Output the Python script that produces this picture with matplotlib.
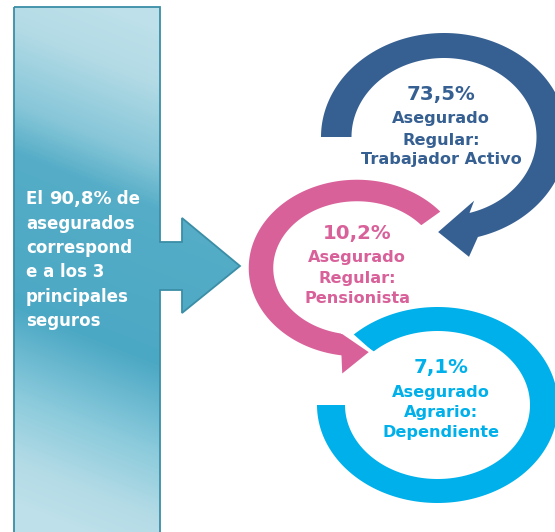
import numpy as np
import matplotlib
matplotlib.use('Agg')
import matplotlib.pyplot as plt
from matplotlib.patches import Polygon, PathPatch
from matplotlib.path import Path
from matplotlib.colors import LinearSegmentedColormap

plt.rcParams['font.family'] = ['DejaVu Sans']

# data
summary_pct = '90,8%'
summary_lines = ['asegurados', 'correspond', 'e a los 3', 'principales', 'seguros']
pcts = ['73,5%', '10,2%', '7,1%']
labels = [['Asegurado', 'Regular:', 'Trabajador Activo'],
          ['Asegurado', 'Regular:', 'Pensionista'],
          ['Asegurado', 'Agrario:', 'Dependiente']]
colors = ['#376092', '#d9619a', '#00b0ea']

W, H = 555, 532
fig = plt.figure(figsize=(W / 100, H / 100), dpi=100)
ax = fig.add_axes([0, 0, 1, 1])
ax.set_xlim(0, W)
ax.set_ylim(H, 0)
ax.axis('off')


def ell(cx, cy, a, b, t, s=1.0):
    t = np.radians(np.atleast_1d(t))
    return np.column_stack([cx + a * s * np.cos(t), cy - b * s * np.sin(t)])


def ring(cx, cy, ro, ri, t0, t1, head=None):
    # ro, ri = (a, b) radii of outer / inner edge
    ts = np.linspace(t0, t1, 200)
    outer = ell(cx, cy, *ro, ts)
    inner = ell(cx, cy, *ri, ts[::-1])
    if head is None:
        return np.vstack([outer, inner])
    (to, so), (tt, st), (ti, si) = head
    mid = ((ro[0] + ri[0]) / 2, (ro[1] + ri[1]) / 2)
    pts = [outer, ell(cx, cy, *ro, to, so), ell(cx, cy, *mid, tt, st),
           ell(cx, cy, *ri, ti, si), inner]
    return np.vstack(pts)


# left panel with arrow
panel = [(14, 7), (160, 7), (160, 242), (182, 242), (182, 218), (240, 266),
         (182, 313), (182, 290), (160, 290), (160, 540), (14, 540)]
yy, xx = np.mgrid[0:H, 0:W]
s = (yy - 0.4 * (xx - 87)) / H
cmap = LinearSegmentedColormap.from_list('aq', [
    (0.0, '#bde0ea'), (0.1, '#b3dbe6'), (0.25, '#86c6d8'), (0.34, '#55adc7'),
    (0.63, '#4ba8c4'), (0.8, '#8ccbdc'), (0.92, '#b3dbe6'), (1.0, '#bde0ea')])
im = ax.imshow(np.clip(s, 0, 1), cmap=cmap, vmin=0, vmax=1,
               extent=(0, W, H, 0), origin='upper', zorder=1)
pp = PathPatch(Path(panel + [panel[0]], closed=True), fc='none',
               ec='#3b8ea6', lw=1.3, zorder=2)
ax.add_patch(pp)
im.set_clip_path(pp)

# circular arrows
cyan = ring(437.5, 405, (120.5, 98), (92.5, 74), 134, -180)
ax.add_patch(Polygon(cyan, closed=True, fc=colors[2], ec='none', zorder=3))

pink = ring(357, 268, (110, 90), (82, 65), 38.6, 261,
            head=((263, 1.22), (278, 1.095), (256, 0.966)))
ax.add_patch(Polygon(pink, closed=True, fc=colors[1], ec='white', lw=2.5,
                     joinstyle='miter', zorder=4))

blue = ring(444, 137, (123, 104), (92.5, 79), 180, -74,
            head=((-80, 1.17), (-93, 1.04), (-68, 0.87)))
ax.add_patch(Polygon(blue, closed=True, fc=colors[0], ec='none', zorder=4))

# ring texts
centers = [(441, [100, 123, 145, 164]),
           (357, [239, 262, 283, 303]),
           (441, [373, 397, 417, 437])]
for (x, ys), p, labs, c in zip(centers, pcts, labels, colors):
    ax.text(x, ys[0], p, color=c, fontsize=14.2, fontweight='bold',
            ha='center', va='baseline', zorder=6)
    for lab, y in zip(labs, ys[1:]):
        ax.text(x, y, lab, color=c, fontsize=11.6, fontweight='bold',
                ha='center', va='baseline', zorder=6)

# panel text
fig.canvas.draw()
r = fig.canvas.get_renderer()
x0 = 26
t1 = ax.text(x0, 204, 'El ', color='white', fontsize=12, fontweight='bold',
             va='baseline', zorder=6)
w1 = t1.get_window_extent(r).width
t2 = ax.text(x0 + w1, 204, summary_pct, color='white', fontsize=13,
             fontweight='bold', va='baseline', zorder=6)
w2 = t2.get_window_extent(r).width
ax.text(x0 + w1 + w2, 204, ' de', color='white', fontsize=12,
        fontweight='bold', va='baseline', zorder=6)
for i, line in enumerate(summary_lines):
    ax.text(x0, 229 + 24.2 * i, line, color='white', fontsize=12,
            fontweight='bold', va='baseline', zorder=6)

fig.savefig('out.png', dpi=100)
